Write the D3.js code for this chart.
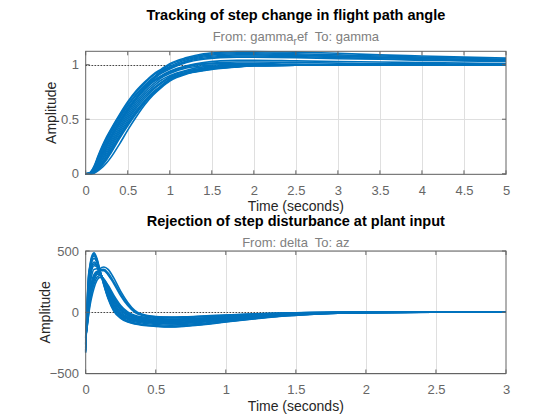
<!DOCTYPE html>
<html>
<head>
<meta charset="utf-8">
<script src="https://cdn.jsdelivr.net/npm/d3@7"></script>
<style>
  body { margin: 0; background: #fff; }
  svg { font-family: "Liberation Sans", Arial, sans-serif; }
</style>
</head>
<body>
<div id="container"></div>
<script>
// time samples for the tracking plot (seconds)
const timeTop = [0, 0.05, 0.1, 0.15, 0.2, 0.25, 0.3, 0.4, 0.5, 0.6, 0.7, 0.8, 0.9, 1.0,
  1.2, 1.4, 1.6, 1.8, 2.0, 2.5, 3.0, 3.5, 4.0, 4.5, 5.0];

// step responses gamma_ref -> gamma, one row per sampled plant
const gammaRuns = [
  [0, .01, .07, .17, .26, .34, .41, .54, .66, .76, .84, .91, .96, 1.01, 1.065, 1.10, 1.115, 1.12, 1.12, 1.115, 1.105, 1.09, 1.08, 1.07, 1.06],
  [0, .01, .06, .16, .25, .33, .40, .53, .65, .75, .83, .90, .95, 1.0, 1.055, 1.09, 1.105, 1.11, 1.11, 1.10, 1.09, 1.08, 1.07, 1.06, 1.05],
  [0, .005, .06, .15, .24, .32, .39, .52, .63, .73, .81, .88, .94, .985, 1.045, 1.08, 1.095, 1.10, 1.10, 1.09, 1.08, 1.07, 1.06, 1.05, 1.045],
  [0, .005, .055, .145, .23, .31, .38, .51, .625, .725, .805, .875, .935, .975, 1.035, 1.07, 1.085, 1.09, 1.09, 1.085, 1.075, 1.065, 1.055, 1.045, 1.04],
  [0, .005, .05, .14, .22, .30, .37, .50, .62, .72, .80, .87, .93, .97, 1.03, 1.06, 1.075, 1.08, 1.08, 1.075, 1.065, 1.055, 1.045, 1.04, 1.035],
  [0, 0, .04, .12, .20, .28, .35, .48, .60, .70, .79, .86, .92, .96, 1.02, 1.05, 1.065, 1.07, 1.07, 1.065, 1.055, 1.05, 1.04, 1.035, 1.03],
  [0, 0, .04, .11, .19, .27, .34, .47, .59, .69, .78, .85, .90, .94, .99, 1.02, 1.035, 1.04, 1.04, 1.035, 1.03, 1.025, 1.02, 1.015, 1.01],
  [0, 0, .035, .105, .18, .26, .33, .46, .58, .685, .775, .845, .895, .935, .985, 1.005, 1.01, 1.01, 1.01, 1.005, 1.0, 1.0, 1.0, 1.0, 1.0],
  [0, 0, .03, .10, .17, .25, .32, .45, .57, .68, .77, .84, .89, .93, .98, 1.01, 1.02, 1.025, 1.025, 1.02, 1.015, 1.01, 1.01, 1.005, 1.005],
  [0, 0, .03, .09, .16, .23, .30, .43, .55, .66, .75, .82, .88, .92, .97, .99, 1.0, 1.005, 1.005, 1.0, 1.0, 1.0, 1.0, 1.0, 1.0],
  [0, 0, .02, .08, .14, .21, .28, .41, .53, .64, .73, .80, .86, .90, .95, .98, .99, 1.0, 1.0, 1.0, 1.0, 1.0, 1.0, 1.0, 1.0],
  [0, 0, .02, .07, .13, .19, .26, .39, .51, .62, .71, .78, .84, .89, .94, .97, .985, .995, 1.0, 1.0, 1.0, 1.0, 1.0, 1.0, 1.0],
  [0, 0, .015, .06, .11, .17, .24, .37, .49, .60, .69, .77, .83, .88, .93, .965, .98, .99, .995, 1.0, 1.0, 1.0, 1.0, 1.0, 1.0],
  [0, 0, .012, .045, .09, .14, .205, .335, .455, .565, .66, .74, .805, .865, .92, .955, .972, .982, .99, .995, 1.0, 1.0, 1.0, 1.0, 1.0],
  [0, 0, .01, .05, .10, .15, .22, .35, .47, .58, .67, .75, .81, .87, .925, .96, .975, .985, .99, .995, 1.0, 1.0, 1.0, 1.0, 1.0],
  [0, 0, .01, .04, .08, .13, .19, .32, .44, .55, .65, .73, .80, .86, .92, .95, .97, .98, .99, .995, 1.0, 1.0, 1.0, 1.0, 1.0],
  [0, 0, .005, .03, .06, .10, .15, .27, .40, .52, .63, .72, .79, .85, .915, .945, .965, .98, .99, .995, 1.0, 1.0, 1.0, 1.0, 1.0]
];

// time samples for the disturbance plot (seconds)
const timeBottom = [0, 0.01, 0.02, 0.03, 0.04, 0.06, 0.08, 0.1, 0.13, 0.16, 0.2, 0.25, 0.3,
  0.35, 0.4, 0.5, 0.6, 0.7, 0.8, 1.0, 1.2, 1.4, 1.6, 1.8, 2.0, 2.5, 3.0];

// step responses delta -> az
const azRuns = [
  [-330, 60, 300, 380, 445, 485, 440, 350, 220, 110, 10, -50, -80, -95, -105, -115, -120, -115, -105, -80, -55, -33, -18, -8, -3, 2, 4],
  [-320, 50, 285, 370, 432, 472, 430, 348, 225, 118, 18, -45, -75, -92, -102, -112, -118, -112, -102, -77, -52, -31, -17, -7, -3, 1, 3],
  [-310, 40, 270, 360, 420, 460, 420, 345, 230, 125, 25, -40, -70, -88, -98, -110, -115, -110, -100, -75, -50, -30, -16, -7, -3, 1, 3],
  [-290, 20, 230, 330, 395, 440, 405, 340, 240, 140, 40, -30, -60, -78, -88, -100, -105, -100, -92, -68, -45, -27, -14, -6, -2, 0, 2],
  [-270, 0, 190, 300, 365, 410, 385, 335, 245, 150, 55, -20, -52, -70, -80, -92, -96, -92, -84, -62, -40, -24, -12, -5, -2, 0, 0],
  [-260, -10, 170, 280, 348, 395, 378, 332, 248, 155, 60, -15, -48, -66, -76, -88, -92, -88, -81, -60, -38, -22, -11, -4, -1, 0, 0],
  [-250, -20, 150, 260, 330, 380, 370, 330, 250, 160, 65, -10, -45, -62, -72, -85, -88, -85, -78, -57, -37, -21, -10, -4, -1, 0, 0],
  [-230, -40, 110, 215, 285, 350, 355, 325, 255, 170, 80, 0, -38, -55, -65, -78, -82, -79, -72, -52, -33, -18, -9, -3, -1, 0, 0],
  [-210, -60, 70, 170, 240, 310, 335, 320, 260, 185, 95, 15, -28, -48, -58, -72, -75, -72, -66, -47, -30, -16, -8, -3, -1, 0, 0],
  [-205, -70, 50, 145, 215, 290, 322, 315, 262, 190, 102, 22, -23, -44, -55, -68, -72, -69, -63, -45, -28, -15, -7, -2, 0, 0, 0],
  [-200, -80, 30, 120, 190, 270, 310, 310, 265, 195, 110, 28, -18, -40, -52, -65, -68, -66, -60, -43, -27, -14, -7, -2, 0, 0, 0],
  [-190, -100, 0, 80, 150, 230, 285, 300, 270, 210, 125, 42, -8, -32, -45, -58, -62, -60, -55, -39, -24, -12, -6, -2, 0, 0, 0],
  [-180, -120, -30, 50, 110, 200, 260, 285, 270, 220, 140, 55, 2, -25, -38, -50, -55, -53, -48, -34, -21, -11, -5, -1, 0, 0, 0],
  [-215, -100, 10, 110, 190, 275, 320, 340, 340, 305, 235, 135, 55, 0, -25, -42, -46, -44, -39, -27, -16, -8, -3, -1, 0, 0, 0],
  [-210, -110, 0, 100, 180, 270, 320, 345, 350, 320, 250, 150, 65, 5, -20, -38, -42, -40, -35, -24, -14, -7, -2, 0, 0, 0, 0],
  [-200, -120, -20, 80, 160, 260, 320, 355, 370, 350, 280, 170, 80, 15, -15, -35, -40, -38, -33, -22, -13, -6, -2, 0, 0, 0, 0]
];

const xTicksTop = [0, 0.5, 1, 1.5, 2, 2.5, 3, 3.5, 4, 4.5, 5];
const yTicksTop = [0, 0.5, 1];
const xTicksBottom = [0, 0.5, 1, 1.5, 2, 2.5, 3];
const yTicksBottom = [-500, 0, 500];

const width = 560;
const height = 420;
const left = 85.7;
const right = 506;
const blue = "#0072bd";

const svg = d3.create("svg").attr("width", width).attr("height", height);

const drawPanel = (p) => {
  const x = d3.scaleLinear().domain(p.xDomain).range([left, right]);
  const y = d3.scaleLinear().domain(p.yDomain).range([p.bottom, p.top]);
  const g = svg.append("g");

  // white plot area
  g.append("rect")
    .attr("x", left).attr("y", p.top)
    .attr("width", right - left).attr("height", p.bottom - p.top)
    .attr("fill", "#fff");

  // grid
  g.selectAll(".vgrid")
    .data(p.xTicks.slice(1, -1))
    .enter()
    .append("line")
    .attr("x1", (d) => Math.round(x(d)) + 0.5).attr("x2", (d) => Math.round(x(d)) + 0.5)
    .attr("y1", p.top).attr("y2", p.bottom)
    .attr("stroke", "#dfdfdf");
  g.selectAll(".hgrid")
    .data(p.yTicks)
    .enter()
    .append("line")
    .attr("x1", left).attr("x2", right)
    .attr("y1", (d) => Math.round(y(d)) + 0.5).attr("y2", (d) => Math.round(y(d)) + 0.5)
    .attr("stroke", "#dfdfdf");

  // reference line
  g.append("line")
    .attr("x1", x(p.xDomain[0])).attr("x2", x(p.xDomain[1]))
    .attr("y1", Math.round(y(p.refValue)) + 0.5).attr("y2", Math.round(y(p.refValue)) + 0.5)
    .attr("stroke", "#000")
    .attr("stroke-dasharray", "1,2");

  // responses
  const line = d3.line()
    .x((d, i) => x(p.time[i]))
    .y((d) => y(d))
    .curve(d3.curveMonotoneX);
  g.selectAll(".run")
    .data(p.runs)
    .enter()
    .append("path")
    .attr("d", line)
    .attr("fill", "none")
    .attr("stroke", blue)
    .attr("stroke-width", 1.6);

  // box and inward ticks
  g.append("rect")
    .attr("x", left).attr("y", p.top)
    .attr("width", right - left).attr("height", p.bottom - p.top)
    .attr("fill", "none")
    .attr("stroke", "#636363");
  const tickLen = 4;
  g.selectAll(".xt")
    .data(p.xTicks)
    .enter()
    .append("path")
    .attr("d", (d) => `M${x(d)},${p.bottom}v${-tickLen}M${x(d)},${p.top}v${tickLen}`)
    .attr("stroke", "#636363");
  g.selectAll(".yt")
    .data(p.yTicks)
    .enter()
    .append("path")
    .attr("d", (d) => `M${left},${y(d)}h${tickLen}M${right},${y(d)}h${-tickLen}`)
    .attr("stroke", "#636363");

  // tick labels
  g.append("g")
    .attr("transform", `translate(0,${p.bottom})`)
    .call(d3.axisBottom(x).tickValues(p.xTicks).tickSize(0).tickPadding(p.tickPad).tickFormat(d3.format("")))
    .call((a) => a.select(".domain").remove())
    .call((a) => a.selectAll("text").attr("fill", "#666").attr("font-size", 13).attr("font-family", null));
  g.append("g")
    .attr("transform", `translate(${left},0)`)
    .call(d3.axisLeft(y).tickValues(p.yTicks).tickSize(0).tickPadding(6.7).tickFormat(d3.format("")))
    .call((a) => a.select(".domain").remove())
    .call((a) => a.selectAll("text").attr("fill", "#666").attr("font-size", 13).attr("font-family", null));

  // labels
  const cx = (left + right) / 2;
  g.append("text")
    .attr("x", cx).attr("y", p.titleY)
    .attr("text-anchor", "middle")
    .attr("font-size", 14.5)
    .attr("font-weight", "bold")
    .attr("fill", "#000")
    .text(p.title);
  const sub = g.append("text")
    .attr("x", cx).attr("y", p.subY)
    .attr("text-anchor", "middle")
    .attr("font-size", 13)
    .attr("fill", "#808080")
    .style("white-space", "pre");
  p.subtitle(sub);
  g.append("text")
    .attr("x", cx).attr("y", p.xLabelY)
    .attr("text-anchor", "middle")
    .attr("font-size", 14)
    .attr("fill", "#262626")
    .text("Time (seconds)");
  g.append("text")
    .attr("transform", `translate(${p.yLabelX},${(p.top + p.bottom) / 2}) rotate(-90)`)
    .attr("text-anchor", "middle")
    .attr("font-size", 14)
    .attr("fill", "#262626")
    .text("Amplitude");
};

drawPanel({
  xDomain: [0, 5],
  yDomain: [-0.005, 1.123],
  top: 51.3,
  bottom: 174.3,
  xTicks: xTicksTop,
  yTicks: yTicksTop,
  refValue: 1,
  time: timeTop,
  runs: gammaRuns,
  title: "Tracking of step change in flight path angle",
  titleY: 19.7,
  subY: 40.7,
  subtitle: (t) => {
    t.append("tspan").text("From: gamma");
    t.append("tspan").attr("font-size", 10).attr("dy", 4).text("r");
    t.append("tspan").attr("dy", -4).text("ef  To: gamma");
  },
  tickPad: 11.5,
  xLabelY: 210.5,
  yLabelX: 56
});

drawPanel({
  xDomain: [0, 3],
  yDomain: [-500, 500],
  top: 251,
  bottom: 373.5,
  xTicks: xTicksBottom,
  yTicks: yTicksBottom,
  refValue: 0,
  time: timeBottom,
  runs: azRuns,
  title: "Rejection of step disturbance at plant input",
  titleY: 225.5,
  subY: 246.5,
  subtitle: (t) => {
    t.append("tspan").text("From: delta  To: az");
  },
  tickPad: 11,
  xLabelY: 410.5,
  yLabelX: 49.5
});

d3.select("#container").append(() => svg.node());
</script>
</body>
</html>
